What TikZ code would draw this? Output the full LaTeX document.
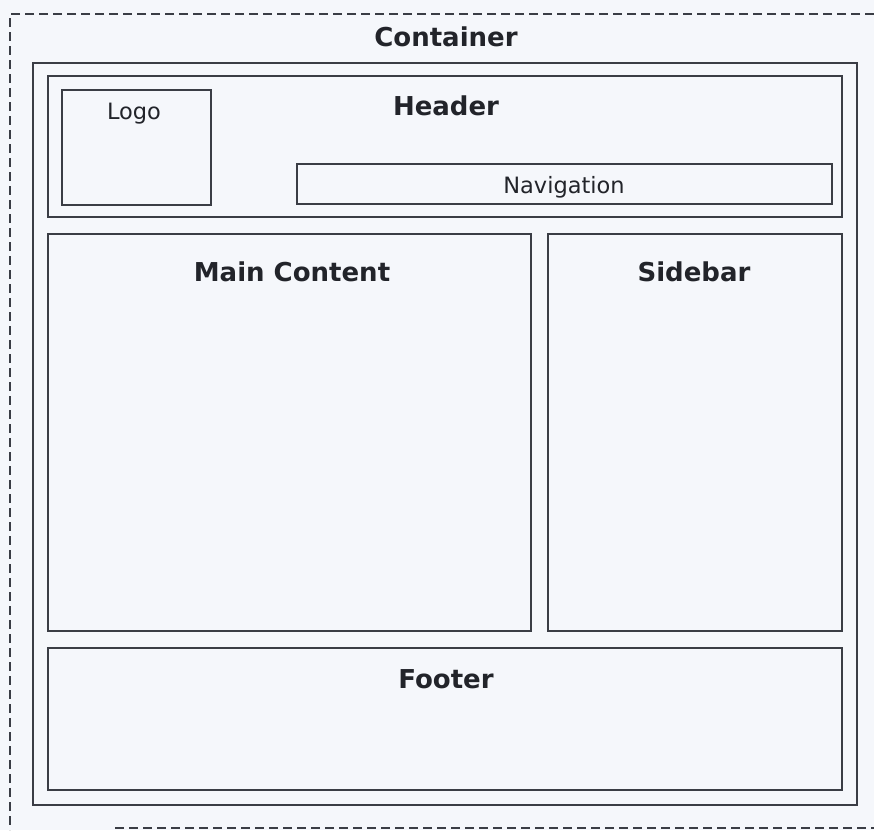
\documentclass[tikz,border=0pt]{standalone}
\usepackage{fontspec}
\setmainfont{DejaVu Sans}
\definecolor{ln}{HTML}{3A3D45}
\definecolor{bg}{HTML}{F5F7FB}
\definecolor{txt}{HTML}{22242A}
\begin{document}
\begin{tikzpicture}[x=1pt,y=-1pt,
  box/.style={draw=ln, line width=2.1pt, anchor=north west, inner sep=0pt, outer sep=0pt},
  title/.style={anchor=base, inner sep=0pt, text=txt, font=\fontsize{26}{29}\selectfont\bfseries},
  label/.style={anchor=base, inner sep=0pt, text=txt, font=\fontsize{22.5}{25}\selectfont},
  dashline/.style={draw=ln, line width=1.8pt, dash pattern=on 9pt off 5pt}]
\fill[bg] (0,0) rectangle (874,830);
\useasboundingbox (0,0) rectangle (874,830);
% dashed outer frame
\coordinate (dTR) at (874,14);
\coordinate (dTL) at (10,14);
\coordinate (dBL) at (10,830);
\coordinate (dB1) at (115,828);
\coordinate (dB2) at (874,828);
\draw[dashline] (dTR) -- (dTL) -- (dBL);
\draw[dashline] (dB1) -- (dB2);
% boxes
\node[box, minimum width=824pt, minimum height=742pt] (container) at (33,63) {};
\node[box, minimum width=794pt, minimum height=141pt] (header) at (48,76) {};
\node[box, minimum width=149pt, minimum height=115pt] (logo) at (62,90) {};
\node[box, minimum width=535pt, minimum height=40pt] (nav) at (297,164) {};
\node[box, minimum width=483pt, minimum height=397pt] (main) at (48,234) {};
\node[box, minimum width=294pt, minimum height=397pt] (sidebar) at (548,234) {};
\node[box, minimum width=794pt, minimum height=142pt] (footer) at (48,648) {};
% labels
\node[title] (tContainer) at (446,46) {Container};
\node[title] (tHeader) at (446,115) {Header};
\node[label] (tLogo) at (134,119) {Logo};
\node[label] (tNav) at (564,193) {Navigation};
\node[title] (tMain) at (292,281) {Main Content};
\node[title] (tSide) at (694,281) {Sidebar};
\node[title] (tFooter) at (446,688) {Footer};
\end{tikzpicture}
\end{document}
